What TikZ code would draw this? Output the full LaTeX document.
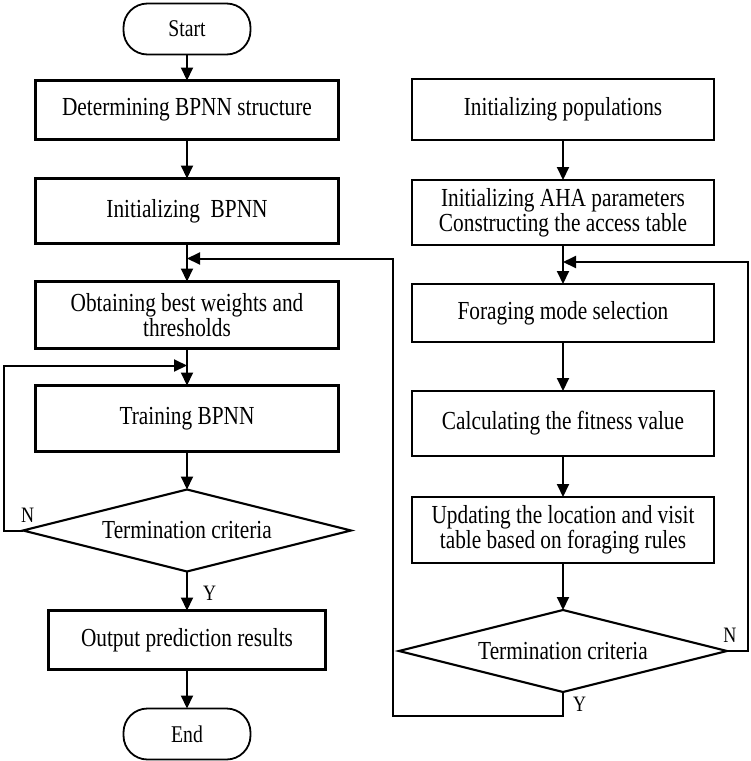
\documentclass[tikz,border=0pt]{standalone}
\usepackage{fontspec}
\setmainfont{Liberation Serif}[FakeStretch=0.82]
\usetikzlibrary{arrows.meta,positioning,shapes.geometric}

\begin{document}
\begin{tikzpicture}[
  box/.style={draw, line width=2.1pt, align=flush center, text width=290pt,
    minimum width=303pt, minimum height=62pt, inner sep=4pt, outer sep=0pt,
    font=\fontsize{26}{25}\selectfont},
  term/.style={draw, line width=1.8pt, rounded corners=24pt, outer sep=0pt,
    minimum width=127pt, minimum height=51pt, inner sep=2pt,
    font=\fontsize{24}{25}\selectfont},
  decide/.style={draw, diamond, line width=2.1pt, aspect=4, inner sep=0pt,
    outer sep=0pt, minimum width=328pt, minimum height=82pt,
    font=\fontsize{26}{25}\selectfont},
  lbl/.style={inner sep=1pt, font=\fontsize{22}{24}\selectfont},
  link/.style={-{Triangle[length=13pt, width=12pt]}, line width=2pt},
  node distance=38pt
]
\useasboundingbox (0,0) rectangle (751pt,-761pt);

% left column: BPNN
\node[term] (start) at (187pt,-29pt) {Start};
\node[box, minimum height=59pt, below=26pt of start] (structure)
  {Determining BPNN structure};
\node[box, minimum height=65pt, below=39pt of structure] (initnn)
  {Initializing~ BPNN};
\node[box, minimum height=67pt, below=of initnn] (weights)
  {Obtaining best weights and\\thresholds};
\node[box, minimum height=66pt, below=37pt of weights] (train)
  {Training BPNN};
\node[decide, below=of train] (stopnn) {Termination criteria};
\node[box, minimum width=277pt, text width=265pt, minimum height=59pt,
  below=39pt of stopnn] (output) {Output prediction results};
\node[term, below=39pt of output] (end) {End};

% right column: AHA
\node[box, minimum width=302pt, minimum height=61pt] (initpop) at (563pt,-109.5pt)
  {Initializing populations};
\node[box, minimum width=302pt, minimum height=65pt, below=40pt of initpop] (initaha)
  {Initializing AHA parameters\\Constructing the access table};
\node[box, minimum width=302pt, minimum height=58pt, below=39pt of initaha] (forage)
  {Foraging mode selection};
\node[box, minimum width=302pt, minimum height=65pt, below=49pt of forage] (fitness)
  {Calculating the fitness value};
\node[box, minimum width=302pt, minimum height=66pt, below=41pt of fitness] (update)
  {Updating the location and visit\\table based on foraging rules};
\node[decide, below=47pt of update] (stopaha) {Termination criteria};

% merge points
\coordinate (mergeA) at ([yshift=-15pt]initnn.south);
\coordinate (mergeB) at ([yshift=-17pt]weights.south);
\coordinate (mergeC) at ([yshift=-17pt]initaha.south);
\coordinate (turn) at ([xshift=-19pt]initaha.west);

% connectors
\draw[link] (start) -- (structure);
\draw[link] (structure) -- (initnn);
\draw[link] (initnn) -- (weights);
\draw[link] (weights) -- (train);
\draw[link] (train) -- (stopnn);
\draw[link] (stopnn) -- (output);
\draw[link] (output) -- (end);
\draw[link] (stopnn.west) -- ++(-19pt,0) |- (mergeB);

\draw[link] (initpop) -- (initaha);
\draw[link] (initaha) -- (forage);
\draw[link] (forage) -- (fitness);
\draw[link] (fitness) -- (update);
\draw[link] (update) -- (stopaha);
\draw[link] (stopaha.east) -- ++(21pt,0) |- (mergeC);
\draw[link] (stopaha.south) -- ++(0,-24pt) -| (turn |- mergeA) -- (mergeA);

% branch labels
\node[lbl, anchor=south west] at ([xshift=-3pt, yshift=7pt]stopnn.west) {N};
\node[lbl, anchor=north west] at ([xshift=15pt, yshift=-13pt]stopnn.south) {Y};
\node[lbl, anchor=south] at ([xshift=3pt, yshift=7pt]stopaha.east) {N};
\node[lbl, anchor=west] at ([xshift=9pt, yshift=-12pt]stopaha.south) {Y};
\end{tikzpicture}
\end{document}
